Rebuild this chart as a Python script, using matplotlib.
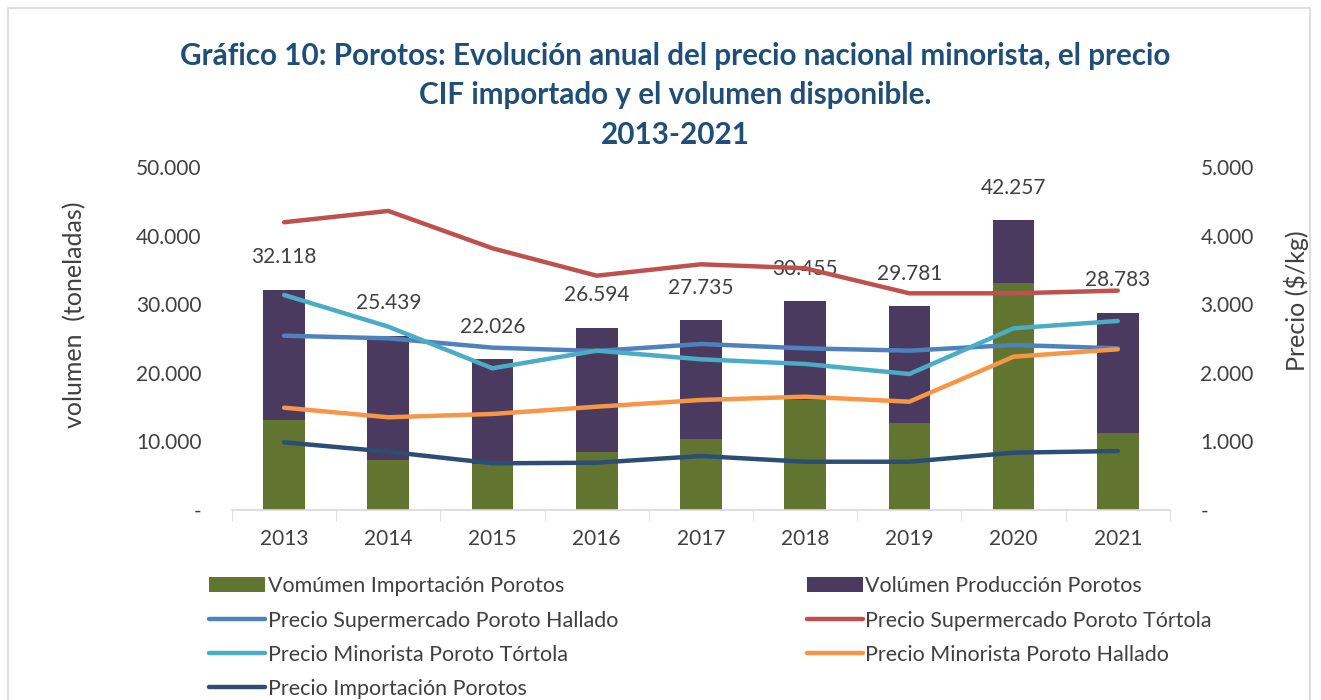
import matplotlib.pyplot as plt
from matplotlib.patches import Rectangle
from matplotlib.ticker import FuncFormatter
import numpy as np

plt.rcParams['font.family'] = ['Lato', 'DejaVu Sans']

anios = ['2013', '2014', '2015', '2016', '2017', '2018', '2019', '2020', '2021']
vol_total = [32118, 25439, 22026, 26594, 27735, 30455, 29781, 42257, 28783]
vol_importacion = [13120, 7290, 6700, 8500, 10300, 16030, 12630, 33040, 11270]
vol_produccion = [t - i for t, i in zip(vol_total, vol_importacion)]

super_hallado = [2541, 2503, 2367, 2318, 2420, 2357, 2323, 2406, 2357]
super_tortola = [4195, 4360, 3815, 3416, 3582, 3524, 3159, 3159, 3198]
minor_tortola = [3135, 2673, 2066, 2323, 2197, 2129, 1983, 2649, 2756]
minor_hallado = [1492, 1352, 1400, 1506, 1604, 1652, 1579, 2235, 2343]
precio_import = [987, 850, 681, 690, 787, 704, 704, 836, 860]

verde = '#617530'
morado = '#4B3A5F'
gris = '#404040'

def miles(v, pos):
    if v == 0:
        return '-'
    return f'{v:,.0f}'.replace(',', '.')

fig = plt.figure(figsize=(13.21, 7), dpi=100)
fig.patches.append(Rectangle((0.006, -0.01), 0.986, 0.998, transform=fig.transFigure,
                             fill=False, edgecolor='#d9d9d9', linewidth=1.2))
ax = fig.add_axes([0.1756, 0.2714, 0.71, 0.49])
x = np.arange(len(anios))

b1 = ax.bar(x, vol_importacion, width=0.4, color=verde, label='Vomúmen Importación Porotos')
b2 = ax.bar(x, vol_produccion, width=0.4, bottom=vol_importacion, color=morado,
            label='Volúmen Producción Porotos')
for xi, t in zip(x, vol_total):
    ax.annotate(miles(t, None), (xi, t), xytext=(0, 16), textcoords='offset points',
                ha='center', va='bottom', fontsize=15, color=gris)

ax.set_ylim(0, 50000)
ax.set_xlim(-0.5, 8.5)
ax.yaxis.set_major_formatter(FuncFormatter(miles))
ax.set_yticks(range(0, 50001, 10000))
ax.set_xticks(x)
ax.set_xticklabels(anios)
ax.set_xticks(np.arange(-0.5, 9, 1), minor=True)
ax.tick_params(axis='x', which='major', length=0, pad=14, labelsize=15, labelcolor=gris)
ax.tick_params(axis='x', which='minor', length=8, color='#d9d9d9')
ax.tick_params(axis='y', length=0, pad=22, labelsize=15, labelcolor=gris)
for s in ['top', 'right', 'left']:
    ax.spines[s].set_visible(False)
ax.spines['bottom'].set_color('#d9d9d9')
ax.spines['bottom'].set_linewidth(1.2)
ax.set_ylabel('volumen  (toneladas)', fontsize=18, color=gris, labelpad=36, y=0.57)

ax2 = ax.twinx()
lw = 3.2
l1, = ax2.plot(x, super_hallado, color='#4F81BD', lw=lw, solid_capstyle='round',
               label='Precio Supermercado Poroto Hallado')
l2, = ax2.plot(x, super_tortola, color='#C0504D', lw=lw, solid_capstyle='round',
               label='Precio Supermercado Poroto Tórtola')
l3, = ax2.plot(x, minor_tortola, color='#4BACC6', lw=lw, solid_capstyle='round',
               label='Precio Minorista Poroto Tórtola')
l4, = ax2.plot(x, minor_hallado, color='#F79646', lw=lw, solid_capstyle='round',
               label='Precio Minorista Poroto Hallado')
l5, = ax2.plot(x, precio_import, color='#2C4D75', lw=lw, solid_capstyle='round',
               label='Precio Importación Porotos')
ax2.set_ylim(0, 5000)
ax2.set_yticks(range(0, 5001, 1000))
ax2.yaxis.set_major_formatter(FuncFormatter(miles))
ax2.tick_params(axis='y', length=0, pad=22, labelsize=15, labelcolor=gris)
for s in ax2.spines.values():
    s.set_visible(False)
ax2.set_ylabel('Precio ($/kg)', fontsize=18, color=gris, labelpad=22, y=0.61)

fig.text(0.511, 0.8636, 'Gráfico 10: Porotos: Evolución anual del precio nacional minorista, el precio\n'
         'CIF importado y el volumen disponible.\n2013-2021',
         ha='center', va='center', fontsize=21.3, fontweight='bold', color='#1F4E79',
         linespacing=1.5)

handles = [b1, l1, l3, l5, b2, l2, l4]
fig.legend(handles=handles, labels=[h.get_label() for h in handles], ncol=2,
           loc='upper left', bbox_to_anchor=(0.152, 0.189), frameon=False, fontsize=15.5,
           labelcolor=gris, handlelength=2.6, handletextpad=0.1, columnspacing=8.8,
           labelspacing=0.66, borderaxespad=0)

fig.savefig('out.png', dpi=100)
